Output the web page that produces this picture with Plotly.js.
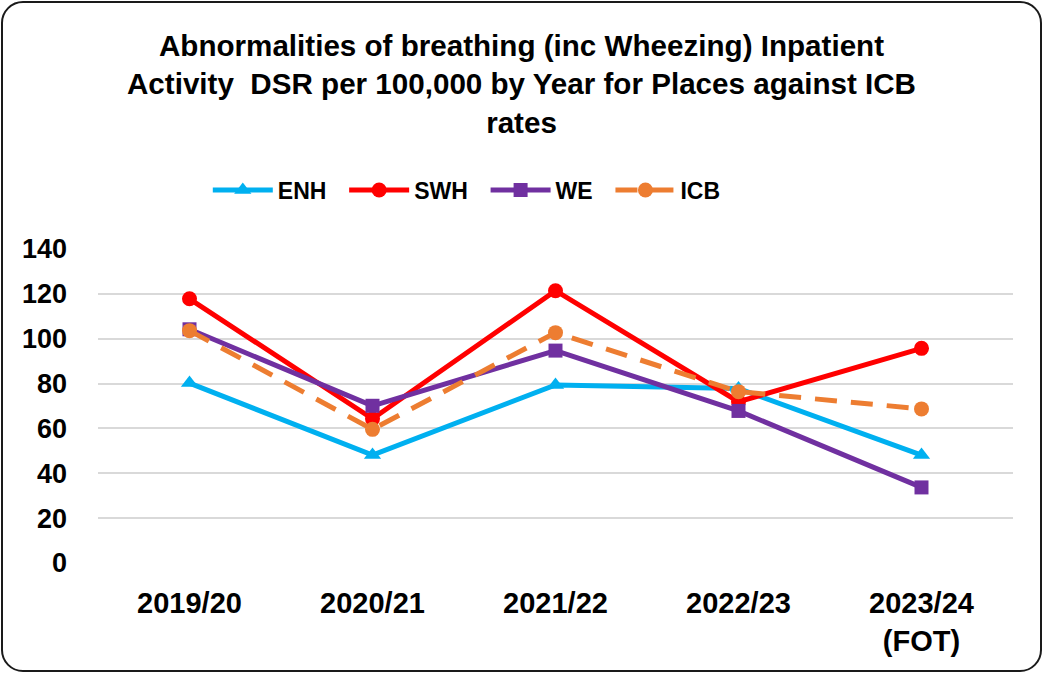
<!DOCTYPE html>
<html>
<head>
<meta charset="utf-8">
<script src="https://cdn.plot.ly/plotly-3.0.1.min.js"></script>
<style>
  html, body { margin: 0; padding: 0; background: #fff; }
  #wrap { position: relative; width: 1043px; height: 673px; }
  #chart { position: absolute; left: 0; top: 0; width: 1043px; height: 673px; }
  #frame { position: absolute; left: 1px; top: 1px; width: 1037px; height: 667px;
           border: 2px solid #1a1a1a; border-radius: 22px; pointer-events: none; }
</style>
</head>
<body>
<div id="wrap">
  <div id="chart"></div>
  <div id="frame"></div>
</div>
<script>
const categories = ["2019/20", "2020/21", "2021/22", "2022/23", "2023/24<br>(FOT)"];
const seriesNames = ["ENH", "SWH", "WE", "ICB"];
const enh = [80.2, 48.1, 79.4, 77.8, 48.1];
const swh = [117.8, 64.3, 121.4, 71.9, 95.7];
const we  = [104.2, 70.1, 94.7, 67.8, 33.7];
const icb = [103.6, 59.6, 102.7, 76.4, 68.7];
const yTicks = [0, 20, 40, 60, 80, 100, 120, 140];

const FONT = "Liberation Sans, Arial, sans-serif";
const pad = "\u00A0\u00A0";

const traces = [
  { name: seriesNames[0] + pad, x: categories, y: enh, type: "scatter", mode: "lines+markers",
    line: { color: "#00B0F0", width: 5 },
    marker: { symbol: "triangle-up", size: 15, color: "#00B0F0" } },
  { name: seriesNames[1] + pad, x: categories, y: swh, type: "scatter", mode: "lines+markers",
    line: { color: "#FF0000", width: 5 },
    marker: { symbol: "circle", size: 15, color: "#FF0000" } },
  { name: seriesNames[2] + pad, x: categories, y: we, type: "scatter", mode: "lines+markers",
    line: { color: "#7030A0", width: 5 },
    marker: { symbol: "square", size: 14, color: "#7030A0" } },
  { name: seriesNames[3], x: categories, y: icb, type: "scatter", mode: "lines+markers",
    line: { color: "#ED7D31", width: 5, dash: "22px,14px" },
    marker: { symbol: "circle", size: 15, color: "#ED7D31" } }
];

const layout = {
  width: 1043, height: 673,
  paper_bgcolor: "#ffffff", plot_bgcolor: "#ffffff",
  margin: { l: 98, r: 30, t: 249, b: 110 },
  font: { family: FONT, color: "#000", size: 26 },
  title: {
    text: "<b>Abnormalities of breathing (inc Wheezing) Inpatient<br>Activity  DSR per 100,000 by Year for Places against ICB<br>rates</b>",
    font: { family: FONT, size: 29.6, color: "#000" },
    x: 0.5, xref: "container", xanchor: "center",
    y: 1 - 56/673, yref: "container", yanchor: "top"
  },
  showlegend: true,
  legend: {
    orientation: "h", x: 0.12, xanchor: "left", y: 1 + 59/314, yanchor: "middle",
    font: { family: FONT, size: 23, color: "#000", weight: "bold" },
    itemwidth: 60, bgcolor: "rgba(0,0,0,0)", traceorder: "normal"
  },
  xaxis: {
    type: "category", range: [-0.5, 4.5],
    showgrid: false, zeroline: false, showline: false, ticks: "",
    tickfont: { family: FONT, size: 29, color: "#000", weight: "bold" },
    ticklabelstandoff: 20
  },
  yaxis: {
    range: [0, 140], tickvals: yTicks, ticktext: yTicks.map(String),
    showgrid: true, gridcolor: "#D9D9D9", gridwidth: 2,
    zeroline: false, showline: false, ticks: "",
    tickfont: { family: FONT, size: 27, color: "#000", weight: "bold" },
    ticklabelstandoff: 30
  }
};

Plotly.newPlot("chart", traces, layout, { displayModeBar: false, staticPlot: true });
</script>
</body>
</html>
